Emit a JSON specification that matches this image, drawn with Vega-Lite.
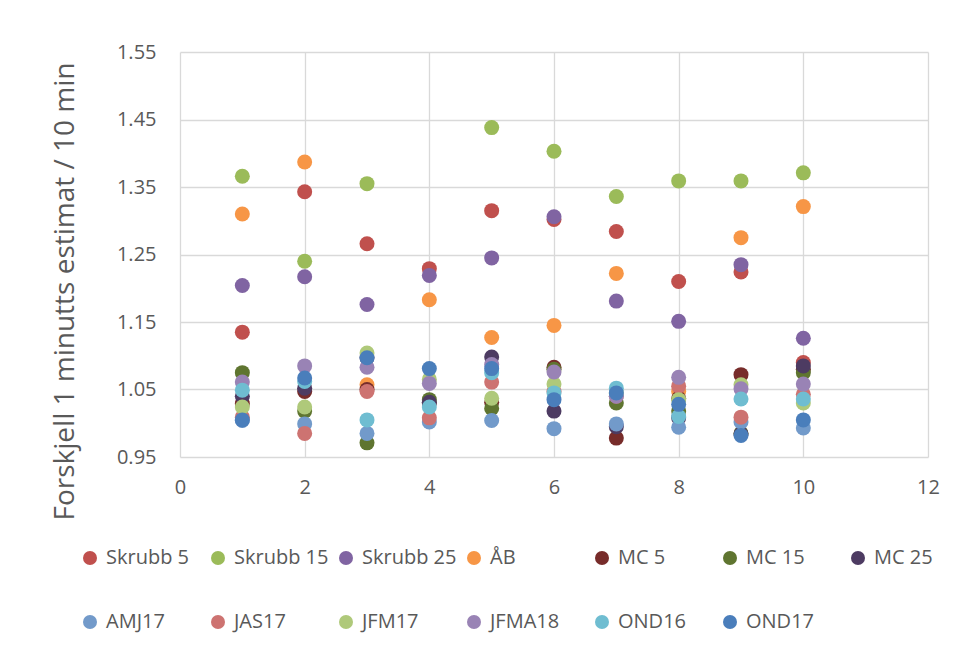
{
  "$schema": "https://vega.github.io/schema/vega-lite/v6.json",
  "width": 748,
  "height": 405,
  "autosize": {"type": "none"},
  "padding": {"left": 180, "top": 52, "right": 27, "bottom": 202},
  "background": "white",
  "config": {
    "font": "Open Sans",
    "view": {"stroke": null},
    "axis": {"domain": false, "ticks": false, "grid": true, "gridColor": "#D9D9D9", "gridWidth": 1.3, "labelColor": "#595959", "labelFontSize": 20, "labelFont": "Open Sans"}
  },
  "data": {"values": [
    {"s":"Skrubb 5","x":1,"y":1.135},{"s":"Skrubb 5","x":2,"y":1.343},{"s":"Skrubb 5","x":3,"y":1.266},{"s":"Skrubb 5","x":4,"y":1.229},{"s":"Skrubb 5","x":5,"y":1.315},{"s":"Skrubb 5","x":6,"y":1.302},{"s":"Skrubb 5","x":7,"y":1.284},{"s":"Skrubb 5","x":8,"y":1.21},{"s":"Skrubb 5","x":9,"y":1.224},{"s":"Skrubb 5","x":10,"y":1.09},
    {"s":"Skrubb 15","x":1,"y":1.366},{"s":"Skrubb 15","x":2,"y":1.24},{"s":"Skrubb 15","x":3,"y":1.355},{"s":"Skrubb 15","x":5,"y":1.438},{"s":"Skrubb 15","x":6,"y":1.403},{"s":"Skrubb 15","x":7,"y":1.336},{"s":"Skrubb 15","x":8,"y":1.359},{"s":"Skrubb 15","x":9,"y":1.359},{"s":"Skrubb 15","x":10,"y":1.371},
    {"s":"Skrubb 25","x":1,"y":1.204},{"s":"Skrubb 25","x":2,"y":1.217},{"s":"Skrubb 25","x":3,"y":1.176},{"s":"Skrubb 25","x":4,"y":1.219},{"s":"Skrubb 25","x":5,"y":1.245},{"s":"Skrubb 25","x":6,"y":1.306},{"s":"Skrubb 25","x":7,"y":1.181},{"s":"Skrubb 25","x":8,"y":1.151},{"s":"Skrubb 25","x":9,"y":1.235},{"s":"Skrubb 25","x":10,"y":1.126},
    {"s":"ÅB","x":1,"y":1.31},{"s":"ÅB","x":2,"y":1.387},{"s":"ÅB","x":3,"y":1.057},{"s":"ÅB","x":4,"y":1.183},{"s":"ÅB","x":5,"y":1.127},{"s":"ÅB","x":6,"y":1.145},{"s":"ÅB","x":7,"y":1.222},{"s":"ÅB","x":8,"y":1.047},{"s":"ÅB","x":9,"y":1.275},{"s":"ÅB","x":10,"y":1.321},
    {"s":"MC 5","x":1,"y":1.029},{"s":"MC 5","x":2,"y":1.047},{"s":"MC 5","x":3,"y":1.05},{"s":"MC 5","x":4,"y":1.03},{"s":"MC 5","x":5,"y":1.031},{"s":"MC 5","x":6,"y":1.083},{"s":"MC 5","x":7,"y":0.978},{"s":"MC 5","x":8,"y":1.037},{"s":"MC 5","x":9,"y":1.072},{"s":"MC 5","x":10,"y":1.08},
    {"s":"MC 15","x":1,"y":1.075},{"s":"MC 15","x":2,"y":1.018},{"s":"MC 15","x":3,"y":0.971},{"s":"MC 15","x":4,"y":1.035},{"s":"MC 15","x":5,"y":1.022},{"s":"MC 15","x":6,"y":1.08},{"s":"MC 15","x":7,"y":1.03},{"s":"MC 15","x":8,"y":1.018},{"s":"MC 15","x":9,"y":0.985},{"s":"MC 15","x":10,"y":1.075},
    {"s":"MC 25","x":1,"y":1.04},{"s":"MC 25","x":2,"y":1.052},{"s":"MC 25","x":3,"y":1.097},{"s":"MC 25","x":4,"y":1.031},{"s":"MC 25","x":5,"y":1.098},{"s":"MC 25","x":6,"y":1.018},{"s":"MC 25","x":7,"y":0.995},{"s":"MC 25","x":8,"y":1.008},{"s":"MC 25","x":9,"y":0.984},{"s":"MC 25","x":10,"y":1.085},
    {"s":"AMJ17","x":1,"y":1.004},{"s":"AMJ17","x":2,"y":0.999},{"s":"AMJ17","x":3,"y":0.985},{"s":"AMJ17","x":4,"y":1.002},{"s":"AMJ17","x":5,"y":1.004},{"s":"AMJ17","x":6,"y":0.992},{"s":"AMJ17","x":7,"y":0.999},{"s":"AMJ17","x":8,"y":0.994},{"s":"AMJ17","x":9,"y":1.002},{"s":"AMJ17","x":10,"y":0.993},
    {"s":"JAS17","x":1,"y":1.009},{"s":"JAS17","x":2,"y":0.985},{"s":"JAS17","x":3,"y":1.047},{"s":"JAS17","x":4,"y":1.008},{"s":"JAS17","x":5,"y":1.061},{"s":"JAS17","x":6,"y":1.047},{"s":"JAS17","x":7,"y":1.04},{"s":"JAS17","x":8,"y":1.055},{"s":"JAS17","x":9,"y":1.009},{"s":"JAS17","x":10,"y":1.043},
    {"s":"JFM17","x":1,"y":1.024},{"s":"JFM17","x":2,"y":1.024},{"s":"JFM17","x":3,"y":1.104},{"s":"JFM17","x":4,"y":1.065},{"s":"JFM17","x":5,"y":1.037},{"s":"JFM17","x":6,"y":1.058},{"s":"JFM17","x":7,"y":1.045},{"s":"JFM17","x":8,"y":1.035},{"s":"JFM17","x":9,"y":1.057},{"s":"JFM17","x":10,"y":1.03},
    {"s":"JFMA18","x":1,"y":1.061},{"s":"JFMA18","x":2,"y":1.085},{"s":"JFMA18","x":3,"y":1.083},{"s":"JFMA18","x":4,"y":1.059},{"s":"JFMA18","x":5,"y":1.087},{"s":"JFMA18","x":6,"y":1.076},{"s":"JFMA18","x":7,"y":1.04},{"s":"JFMA18","x":8,"y":1.068},{"s":"JFMA18","x":9,"y":1.051},{"s":"JFMA18","x":10,"y":1.058},
    {"s":"OND16","x":1,"y":1.049},{"s":"OND16","x":2,"y":1.062},{"s":"OND16","x":3,"y":1.005},{"s":"OND16","x":4,"y":1.024},{"s":"OND16","x":5,"y":1.075},{"s":"OND16","x":6,"y":1.045},{"s":"OND16","x":7,"y":1.052},{"s":"OND16","x":8,"y":1.01},{"s":"OND16","x":9,"y":1.036},{"s":"OND16","x":10,"y":1.036},
    {"s":"OND17","x":1,"y":1.005},{"s":"OND17","x":2,"y":1.067},{"s":"OND17","x":3,"y":1.097},{"s":"OND17","x":4,"y":1.081},{"s":"OND17","x":5,"y":1.081},{"s":"OND17","x":6,"y":1.035},{"s":"OND17","x":7,"y":1.045},{"s":"OND17","x":8,"y":1.028},{"s":"OND17","x":9,"y":0.982},{"s":"OND17","x":10,"y":1.005}
  ]},
  "mark": {"type": "point", "shape": "circle", "filled": true, "opacity": 1, "size": 225},
  "encoding": {
    "x": {"field": "x", "type": "quantitative", "scale": {"domain": [0, 12], "nice": false, "zero": false},
      "axis": {"values": [0, 2, 4, 6, 8, 10, 12], "title": null, "labelPadding": 20, "labelFlush": false}},
    "y": {"field": "y", "type": "quantitative", "scale": {"domain": [0.95, 1.55], "nice": false, "zero": false},
      "axis": {"values": [0.95, 1.05, 1.15, 1.25, 1.35, 1.45, 1.55], "format": ".2f", "labelPadding": 24, "labelFlush": false,
        "title": "Forskjell 1 minutts estimat / 10 min", "titleFontSize": 28, "titleFontWeight": "normal", "titleColor": "#595959", "titleFont": "Open Sans",
        "titleX": -115, "titleY": 239, "titleAngle": -90, "titleAlign": "center", "titleBaseline": "middle"}},
    "color": {"field": "s", "type": "nominal",
      "scale": {"domain": ["Skrubb 5","Skrubb 15","Skrubb 25","ÅB","MC 5","MC 15","MC 25","AMJ17","JAS17","JFM17","JFMA18","OND16","OND17"],
        "range": ["#C0504D","#9BBB59","#8064A2","#F79646","#772C2A","#5F7530","#4D3B62","#729ACA","#CD7371","#AFC97A","#9983B5","#6FBDD1","#4A7EBB"]},
      "legend": {"title": null, "orient": "none", "direction": "horizontal", "legendX": -100, "legendY": 496, "columns": 7, "gridAlign": "all",
        "symbolType": "circle", "symbolSize": 196, "symbolStrokeWidth": 0, "symbolOpacity": 1,
        "labelFontSize": 20, "labelColor": "#595959", "labelFont": "Open Sans", "labelOffset": 6, "labelLimit": 200,
        "columnPadding": 7, "rowPadding": 44}}
  }
}
